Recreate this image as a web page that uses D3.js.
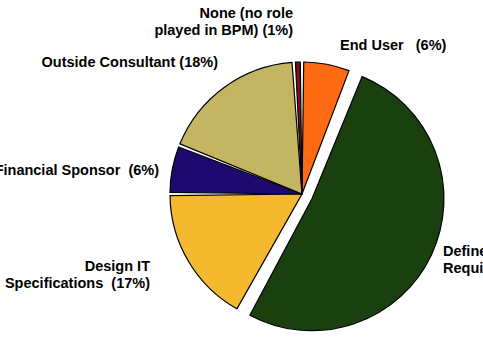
<!DOCTYPE html>
<html>
<head>
<meta charset="utf-8">
<script src="https://cdn.jsdelivr.net/npm/d3@7"></script>
<style>
body { margin: 0; background: #fff; }
text { font-family: "Liberation Sans", Arial, sans-serif; font-weight: bold; font-size: 14.5px; fill: #000; white-space: pre; }
</style>
</head>
<body>
<div class="container"></div>
<script>
const WIDTH = 483;
const HEIGHT = 342;
const CX = 302;
const CY = 194;
const RADIUS = 132;

// slices, clockwise from 12 o'clock
var categories = ['End User', 'Define Requirements', 'Design IT Specifications', 'Financial Sponsor', 'Outside Consultant', 'None'];
var values = [6, 52, 17, 6, 18, 1];
var colors = ['#ff6a13', '#1a4010', '#f5b92f', '#1e0a6e', '#c3b561', '#7b1018'];
var exploded = [0, 11, 0, 0, 0, 0];

// label lines, anchor and position
var labelLines = [
	['End User   (6%)'],
	['Define', 'Requirements  (52%)'],
	['Design IT', 'Specifications  (17%)'],
	['Financial Sponsor  (6%)'],
	['Outside Consultant (18%)'],
	['None (no role', 'played in BPM) (1%)']
];
var labelAnchor = ['start', 'start', 'end', 'end', 'end', 'end'];
var labelPos = [[340, 50], [443, 256], [150, 271], [159, 175], [218, 67], [293, 18]];

var svg = d3.select('.container').append('svg')
		.attr('width', WIDTH)
		.attr('height', HEIGHT);

var pie = d3.pie().sort(null).value(function(d){ return d; });
var arcs = pie(values);

var arc = d3.arc()
	.innerRadius(0)
	.outerRadius(RADIUS)
	.padAngle(0.026)
	.padRadius(RADIUS);

var g = svg.append('g')
	.attr('transform', 'translate(' + CX + ',' + CY + ')');

g.selectAll('path')
	.data(arcs)
	.enter().append('path')
	.attr('transform', function(d, i){
		var mid = (d.startAngle + d.endAngle) / 2;
		var off = exploded[i];
		return 'translate(' + (Math.sin(mid) * off) + ',' + (-Math.cos(mid) * off) + ')';
	})
	.attr('d', arc)
	.attr('fill', function(d, i){ return colors[i]; })
	.attr('stroke', '#000')
	.attr('stroke-width', 1.2);

var labels = svg.append('g');
labelLines.forEach(function(lines, i){
	var t = labels.append('text')
		.attr('x', labelPos[i][0])
		.attr('y', labelPos[i][1])
		.attr('text-anchor', labelAnchor[i]);
	lines.forEach(function(line, j){
		t.append('tspan')
			.attr('x', labelPos[i][0])
			.attr('dy', j === 0 ? 0 : 16.5)
			.text(line);
	});
});
</script>
</body>
</html>
